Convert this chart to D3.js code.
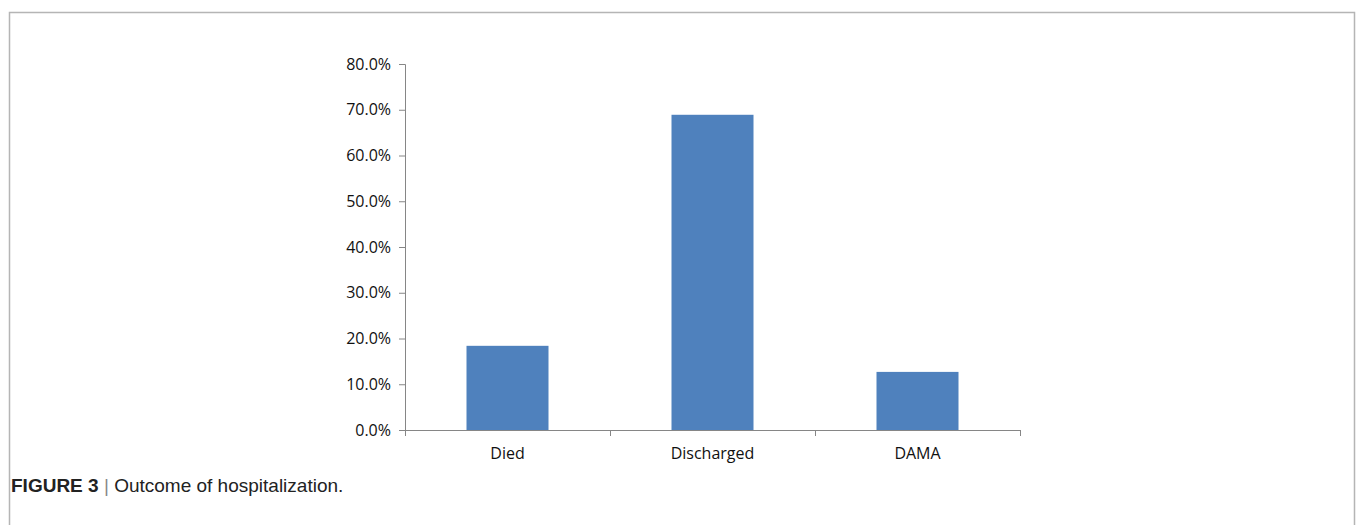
<!DOCTYPE html>
<html>
<head>
<meta charset="utf-8">
<script src="https://cdn.jsdelivr.net/npm/d3@7"></script>
<style>
  body { margin: 0; background: #fff; }
  svg { display: block; }
</style>
</head>
<body>
<div id="chart"></div>
<script>
// outcome of hospitalization (share of patients)
var categories = ["Died", "Discharged", "DAMA"];
var shares = [0.184, 0.689, 0.127];
var yTicks = [0, 0.1, 0.2, 0.3, 0.4, 0.5, 0.6, 0.7, 0.8];

var W = 1357, H = 525;
var margin = {top: 64, left: 405, right: 337, bottom: 95};
var width = W - margin.left - margin.right;
var height = H - margin.top - margin.bottom;

var svg = d3.select("#chart").append("svg")
    .attr("width", W)
    .attr("height", H);

// frame around figure
svg.append("path")
    .attr("d", "M9.5,525 V12.5 H1354.5 V525")
    .attr("fill", "none")
    .attr("stroke", "#b5b5b5")
    .attr("stroke-width", 1.5);

var g = svg.append("g")
    .attr("transform", "translate(" + margin.left + "," + margin.top + ")");

var x = d3.scaleBand().domain(categories).range([0, width]).paddingInner(0.6).paddingOuter(0.3);
var y = d3.scaleLinear().domain([0, 0.8]).range([height, 0]);

g.selectAll("rect.bar")
    .data(categories)
    .enter().append("rect")
    .attr("class", "bar")
    .attr("x", function (d) { return x(d); })
    .attr("width", x.bandwidth())
    .attr("y", function (d, i) { return y(shares[i]); })
    .attr("height", function (d, i) { return height - y(shares[i]); })
    .attr("fill", "#4f81bd");

// y axis
var yAxis = g.append("g")
    .call(d3.axisLeft(y).tickValues(yTicks).tickSize(6).tickPadding(8)
        .tickFormat(d3.format(".1%")));

// x axis: ticks at category boundaries
var xAxis = g.append("g")
    .attr("transform", "translate(0," + height + ")");
xAxis.append("line")
    .attr("x1", 0).attr("x2", width)
    .attr("y1", 0.5).attr("y2", 0.5);
xAxis.selectAll("line.tk")
    .data(d3.range(categories.length + 1))
    .enter().append("line")
    .attr("class", "tk")
    .attr("x1", function (d) { return Math.round(d * width / categories.length) + 0.5; })
    .attr("x2", function (d) { return Math.round(d * width / categories.length) + 0.5; })
    .attr("y1", 0).attr("y2", 6);
xAxis.selectAll("line").attr("stroke", "#868686");
xAxis.selectAll("text")
    .data(categories)
    .enter().append("text")
    .attr("x", function (d) { return x(d) + x.bandwidth() / 2; })
    .attr("y", 29)
    .attr("text-anchor", "middle")
    .text(function (d) { return d; });

[yAxis, xAxis].forEach(function (a) {
    a.selectAll("text")
        .attr("fill", "#111")
        .style("font-family", "'Open Sans', 'Liberation Sans', sans-serif")
        .style("font-size", "16px");
});
yAxis.select(".domain").attr("stroke", "#868686");
yAxis.selectAll(".tick line").attr("stroke", "#868686");

// caption
var cap = svg.append("text")
    .attr("x", 11)
    .attr("y", 492)
    .style("font-family", "'Liberation Sans', Arial, sans-serif")
    .style("font-size", "19px")
    .attr("fill", "#222");
cap.append("tspan").attr("font-weight", "bold").text("FIGURE 3");
cap.append("tspan").attr("fill", "#888").text(" | ");
cap.append("tspan").text("Outcome of hospitalization.");
</script>
</body>
</html>
